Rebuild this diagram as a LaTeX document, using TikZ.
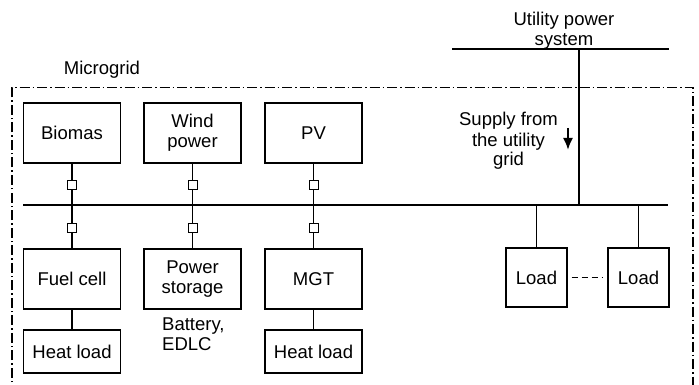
\documentclass[tikz,border=0pt]{standalone}
\usepackage{fontspec}
\setmainfont{Liberation Sans}
\usetikzlibrary{arrows.meta}
\begin{document}
\begin{tikzpicture}[x=1pt,y=-1pt,
  lbl/.style={font=\fontsize{18.5}{20}\selectfont, inner sep=0pt},
  blk/.style={draw, line width=1.3pt, align=center, font=\fontsize{18.5}{20}\selectfont, inner sep=0pt},
  srcbox/.style={blk, minimum width=97pt, minimum height=60pt},
  heatbox/.style={blk, minimum width=97pt, minimum height=43pt},
  loadbox/.style={blk, minimum width=61pt, minimum height=59pt},
  sw/.style={draw, line width=1pt, minimum width=9pt, minimum height=9pt, inner sep=0pt},
  wire/.style={line width=1.1pt},
  bus/.style={line width=2.8pt},
  border/.style={line width=1.1pt, dash pattern=on 10pt off 3pt on 1.5pt off 3pt}
]
\useasboundingbox (0,0) rectangle (699,385);
\fill[white] (0,0) rectangle (699,385);

% microgrid border (bottom runs off the picture)
\draw[border] (12,395) -- (12,87.5) -- (693,87.5) -- (693,395);
\node[lbl, anchor=base] (mg) at (102,75) {Microgrid};

% utility
\coordinate (uL) at (452,49);
\coordinate (uR) at (669,49);
\coordinate (uJ) at (579,49);
\draw[bus] (uL) -- (uR);
\node[lbl, align=center, anchor=base] (ut) at (564,46) {Utility power\\system};

% main bus
\coordinate (bL) at (23,205);
\coordinate (bR) at (668,205);
\coordinate (bJ) at (579,205);
\draw[bus] (bL) -- (bR);
\draw[bus] (uJ) -- (bJ);

\node[lbl, align=center, anchor=base] (sup) at (508.5,166) {Supply from\\the utility\\grid};
\coordinate (aT) at (568,128);
\coordinate (aB) at (568,150);
\draw[line width=2pt, -{Latex[length=12pt,width=10pt]}] (aT) -- (aB);

% sources
\node[srcbox] (bio) at (72,133) {Biomas};
\node[srcbox] (wind) at (192.5,133) {Wind\\power};
\node[srcbox] (pv) at (313.5,133) {PV};

\node[srcbox] (fc) at (72,279) {Fuel cell};
\node[srcbox] (ps) at (192.5,279) {Power\\storage};
\node[srcbox] (mgt) at (313.5,279) {MGT};

\node[heatbox] (hl1) at (72,351.5) {Heat load};
\node[heatbox] (hl2) at (313.5,351.5) {Heat load};

\node[lbl, align=left, anchor=base west] (bat) at (162,350) {Battery,\\EDLC};

% switches
\foreach \n/\x in {a/72,b/192.5,c/313.5}{
  \node[sw] (u\n) at (\x,185) {};
  \node[sw] (d\n) at (\x,227.5) {};
}
\draw[wire] (bio.south) -- (ua.north);
\draw[wire] (ua.south) -- (da.north);
\draw[wire] (da.south) -- (fc.north);
\draw[wire] (wind.south) -- (ub.north);
\draw[wire] (ub.south) -- (db.north);
\draw[wire] (db.south) -- (ps.north);
\draw[wire] (pv.south) -- (uc.north);
\draw[wire] (uc.south) -- (dc.north);
\draw[wire] (dc.south) -- (mgt.north);
\draw[wire] (fc.south) -- (hl1.north);
\draw[wire] (mgt.south) -- (hl2.north);

% loads
\node[loadbox] (ld1) at (536.5,277.5) {Load};
\node[loadbox] (ld2) at (638.5,277.5) {Load};
\coordinate (j1) at (536.5,205);
\coordinate (j2) at (638.5,205);
\draw[wire] (j1) -- (ld1.north);
\draw[wire] (j2) -- (ld2.north);
\draw[wire, dash pattern=on 6pt off 4pt] ([xshift=4pt]ld1.east) -- ([xshift=-4pt]ld2.west);
\end{tikzpicture}
\end{document}
